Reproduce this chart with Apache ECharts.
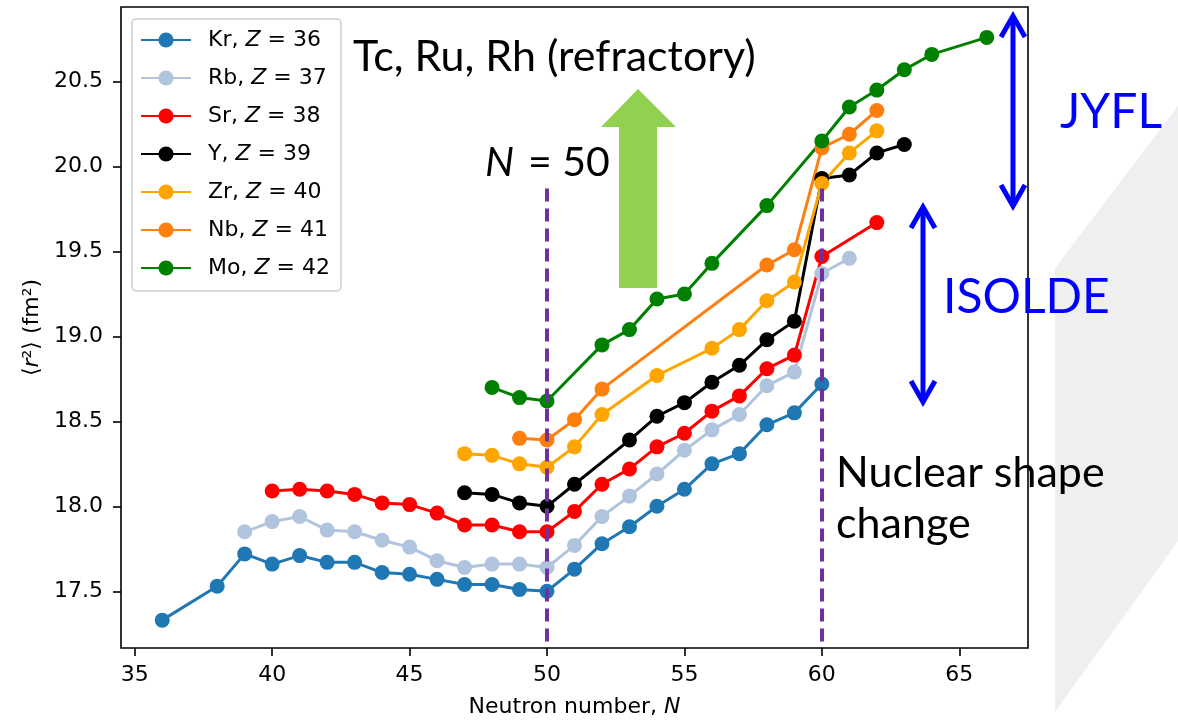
<!DOCTYPE html>
<html>
<head>
<meta charset="utf-8">
<script src="https://cdn.jsdelivr.net/npm/echarts@6/dist/echarts.min.js"></script>
<style>
html,body{margin:0;padding:0;background:#fff;}
#chart{width:1178px;height:723px;}
</style>
</head>
<body>
<div id="chart"></div>
<script>
// ---- data (neutron number N, mean-square charge radius in fm^2) ----
const krN = [36,38,39,40,41,42,43,44,45,46,47,48,49,50,51,52,53,54,55,56,57,58,59,60];
const krR = [17.33,17.53,17.72,17.66,17.71,17.67,17.67,17.61,17.60,17.57,17.54,17.54,17.51,17.50,17.63,17.78,17.88,18.00,18.10,18.25,18.31,18.48,18.55,18.72];
const rbN = [39,40,41,42,43,44,45,46,47,48,49,50,51,52,53,54,55,56,57,58,59,60,61];
const rbR = [17.85,17.91,17.94,17.86,17.85,17.80,17.76,17.68,17.64,17.66,17.66,17.64,17.77,17.94,18.06,18.19,18.33,18.45,18.54,18.71,18.79,19.37,19.46];
const srN = [40,41,42,43,44,45,46,47,48,49,50,51,52,53,54,55,56,57,58,59,60,62];
const srR = [18.09,18.10,18.09,18.07,18.02,18.01,17.96,17.89,17.89,17.85,17.85,17.97,18.13,18.22,18.35,18.43,18.56,18.65,18.81,18.89,19.47,19.67];
const yN  = [47,48,49,50,51,53,54,55,56,57,58,59,60,61,62,63];
const yR  = [18.08,18.07,18.02,18.00,18.13,18.39,18.53,18.61,18.73,18.83,18.98,19.09,19.93,19.95,20.08,20.13];
const zrN = [47,48,49,50,51,52,54,56,57,58,59,60,61,62];
const zrR = [18.31,18.30,18.25,18.23,18.35,18.54,18.77,18.93,19.04,19.21,19.32,19.90,20.08,20.21];
const nbN = [49,50,51,52,58,59,60,61,62];
const nbR = [18.40,18.39,18.51,18.69,19.42,19.51,20.11,20.19,20.33];
const moN = [48,49,50,52,53,54,55,56,58,60,61,62,63,64,66];
const moR = [18.70,18.64,18.62,18.95,19.04,19.22,19.25,19.43,19.77,20.15,20.35,20.45,20.57,20.66,20.76];

const seriesNames = ['Kr, Z = 36','Rb, Z = 37','Sr, Z = 38','Y, Z = 39','Zr, Z = 40','Nb, Z = 41','Mo, Z = 42'];
const seriesColors = ['#1f77b4','#b0c4de','#ff0000','#000000','#ffa500','#ff7f0e','#008000'];
const xTicks = [35,40,45,50,55,60,65];
const yTicks = [17.5,18.0,18.5,19.0,19.5,20.0,20.5];
const magicN = [50,60];          // dashed guide lines
const magicTop = 19.87;          // upper end of the dashed guide lines

const allN = [krN,rbN,srN,yN,zrN,nbN,moN];
const allR = [krR,rbR,srR,yR,zrR,nbR,moR];

function pairs(ns, rs){ return ns.map((n,i)=>[n, rs[i]]); }

const FONT = 'DejaVu Sans';
const yMin = 17.166, yMax = 20.939;

const series = seriesNames.map((name,k)=>({
  name: name,
  type: 'line',
  data: pairs(allN[k], allR[k]),
  symbol: 'circle',
  symbolSize: 15,
  showSymbol: true,
  lineStyle: {color: seriesColors[k], width: 3},
  itemStyle: {color: seriesColors[k]},
  emphasis: {disabled: true},
  z: 2
}));

series.push({
  name: 'guides',
  type: 'line',
  data: [],
  silent: true,
  z: 6,
  markLine: {
    silent: true,
    symbol: ['none','none'],
    label: {show: false},
    lineStyle: {color: '#7030a0', width: 4, type: [13, 7]},
    emphasis: {disabled: true},
    data: magicN.map(n => [{coord: [n, magicTop]}, {coord: [n, yMin]}])
  }
});

const chart = echarts.init(document.getElementById('chart'), null, {renderer: 'canvas'});

const option = {
  animation: false,
  backgroundColor: '#ffffff',
  grid: {
    left: 121, top: 7, right: 150, bottom: 72,
    show: true, borderColor: '#000', borderWidth: 1.6, backgroundColor: 'transparent'
  },
  xAxis: {
    type: 'value', min: 34.5, max: 67.5,
    name: 'Neutron number, {i|N}',
    nameLocation: 'middle', nameGap: 48,
    nameTextStyle: {fontFamily: FONT, fontSize: 22, color: '#000',
      rich: {i: {fontFamily: FONT, fontSize: 22, fontStyle: 'italic', color: '#000'}}},
    axisLine: {show: false},
    splitLine: {show: false},
    axisTick: {show: true, length: 8, inside: false, customValues: xTicks, lineStyle: {color: '#000', width: 1.6}},
    axisLabel: {customValues: xTicks, margin: 16, fontFamily: FONT, fontSize: 22, color: '#000'}
  },
  yAxis: {
    type: 'value', min: yMin, max: yMax,
    name: '⟨{i|r}²⟩ (fm²)',
    nameLocation: 'middle', nameGap: 76, nameRotate: 90,
    nameTextStyle: {fontFamily: FONT, fontSize: 22, color: '#000',
      rich: {i: {fontFamily: FONT, fontSize: 22, fontStyle: 'italic', color: '#000'}}},
    axisLine: {show: false},
    splitLine: {show: false},
    axisTick: {show: true, length: 8, inside: false, customValues: yTicks, lineStyle: {color: '#000', width: 1.6}},
    axisLabel: {customValues: yTicks, margin: 18, fontFamily: FONT, fontSize: 22, color: '#000',
      formatter: v => Number(v).toFixed(1)}
  },
  legend: {
    orient: 'vertical',
    left: 132, top: 19,
    data: seriesNames,
    itemWidth: 50, itemHeight: 19, itemGap: 16,
    padding: [10, 11, 12, 8],
    backgroundColor: 'rgba(255,255,255,0.8)',
    borderColor: '#cccccc', borderWidth: 1.5, borderRadius: 4,
    selectedMode: false,
    formatter: name => name.replace(', Z =', ', {i|Z} ='),
    textStyle: {fontFamily: FONT, fontSize: 22, color: '#000', padding: [0, 0, 0, 12],
      rich: {i: {fontFamily: FONT, fontSize: 22, fontStyle: 'italic', color: '#000'}}}
  },
  graphic: [
    {type: 'polygon', z: 0, silent: true,
     shape: {points: [[1055,268],[1178,106],[1178,541],[1055,712]]},
     style: {fill: '#eeefee'}},
    {type: 'polygon', z: 20, silent: true,
     shape: {points: [[619,288],[657,288],[657,127],[676,127],[638,89],[601,127],[619,127]]},
     style: {fill: '#92d050'}},
    // JYFL double arrow
    {type: 'line', z: 20, silent: true, shape: {x1: 1013, y1: 18, x2: 1013, y2: 204}, style: {stroke: '#0000ff', lineWidth: 5}},
    {type: 'polyline', z: 20, silent: true, shape: {points: [[1001,37],[1013,16],[1025,37]]}, style: {stroke: '#0000ff', lineWidth: 5, fill: null, lineJoin: 'miter'}},
    {type: 'polyline', z: 20, silent: true, shape: {points: [[1001,185],[1013,206],[1025,185]]}, style: {stroke: '#0000ff', lineWidth: 5, fill: null, lineJoin: 'miter'}},
    // ISOLDE double arrow
    {type: 'line', z: 20, silent: true, shape: {x1: 923, y1: 209, x2: 923, y2: 400}, style: {stroke: '#0000ff', lineWidth: 5}},
    {type: 'polyline', z: 20, silent: true, shape: {points: [[911,228],[923,207],[935,228]]}, style: {stroke: '#0000ff', lineWidth: 5, fill: null, lineJoin: 'miter'}},
    {type: 'polyline', z: 20, silent: true, shape: {points: [[911,381],[923,402],[935,381]]}, style: {stroke: '#0000ff', lineWidth: 5, fill: null, lineJoin: 'miter'}},
    // texts
    {type: 'text', z: 21, silent: true, style: {text: 'Tc, Ru, Rh (refractory)', x: 353, y: 57, font: '43px Lato', fill: '#000', textAlign: 'left', textVerticalAlign: 'middle'}},
    {type: 'text', z: 21, silent: true, style: {text: 'N', x: 485, y: 163, font: 'italic 41px Lato', fill: '#000', textAlign: 'left', textVerticalAlign: 'middle'}},
    {type: 'text', z: 21, silent: true, style: {text: '= 50', x: 528, y: 163, font: '41px Lato', fill: '#000', textAlign: 'left', textVerticalAlign: 'middle'}},
    {type: 'text', z: 21, silent: true, style: {text: 'Nuclear shape', x: 836, y: 473, font: '43px Lato', fill: '#000', textAlign: 'left', textVerticalAlign: 'middle'}},
    {type: 'text', z: 21, silent: true, style: {text: 'change', x: 836, y: 524, font: '43px Lato', fill: '#000', textAlign: 'left', textVerticalAlign: 'middle'}},
    {type: 'text', z: 21, silent: true, style: {text: 'JYFL', x: 1060, y: 113, font: '48px Lato', fill: '#0000ff', textAlign: 'left', textVerticalAlign: 'middle'}},
    {type: 'text', z: 21, silent: true, style: {text: 'ISOLDE', x: 943, y: 298, font: '48px Lato', fill: '#0000ff', textAlign: 'left', textVerticalAlign: 'middle'}}
  ],
  series: series
};
chart.setOption(option);
</script>
</body>
</html>
